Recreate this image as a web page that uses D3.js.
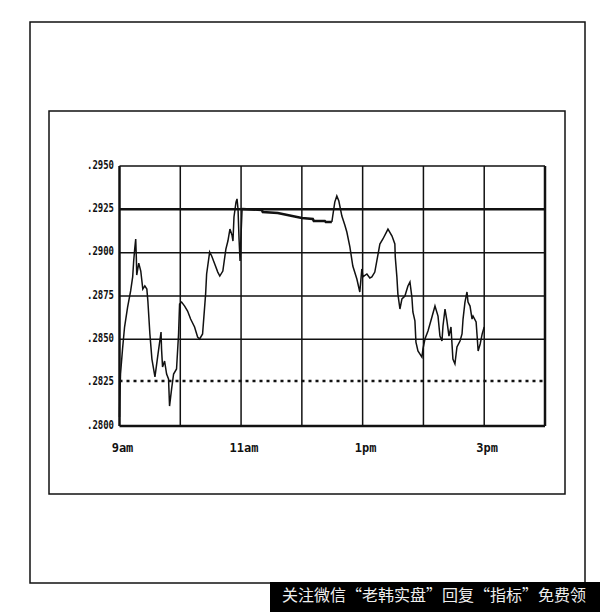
<!DOCTYPE html>
<html>
<head>
<meta charset="utf-8">
<script src="https://cdn.jsdelivr.net/npm/d3@7"></script>
<style>
  html, body { margin: 0; padding: 0; background: #fff; }
  #chart { width: 600px; height: 612px; }
</style>
</head>
<body>
<div id="chart"></div>
<script>
// minutes after 9:00, price in ten-thousandths (2925 = .2925)
const morningMin = [0, 0.3, 1, 3, 5, 8, 11, 13, 14, 15, 16, 16.6, 17, 19, 21, 23, 25, 27, 28, 30,
  32, 35, 38, 41, 41.5, 42.5, 44.5, 46.5, 48.4, 49.4, 51.4, 53.4, 56.3, 58.3, 59.3, 61.3, 64.3,
  67.2, 70.2, 74.1, 77.1, 79.1, 82, 85, 86, 89, 91, 94, 97, 99, 102, 105, 107, 109, 111, 112,
  113, 115, 116, 117, 118, 119, 120, 121];
const morningPx = [2805.2, 2815.6, 2830.0, 2844.4, 2857.1, 2868.6, 2877.9, 2886.0, 2895.2, 2902.1,
  2907.9, 2897.5, 2887.1, 2894.0, 2889.4, 2879.0, 2880.8, 2879.0, 2872.1, 2853.1, 2838.6, 2828.3,
  2841.5, 2854.2, 2844.4, 2834.0, 2837.5, 2830.0, 2827.1, 2811.5, 2821.3, 2830.0, 2832.9, 2853.1,
  2870.4, 2871.5, 2869.2, 2866.3, 2861.7, 2857.1, 2851.3, 2850.2, 2853.1, 2876.1, 2887.7, 2900.4,
  2898.1, 2893.5, 2888.8, 2886.5, 2889.4, 2902.1, 2906.7, 2913.6, 2910.2, 2906.7, 2920.6, 2929.2,
  2931.0, 2925.2, 2907.9, 2895.2, 2910.8, 2925.2];

// thick stepped stretch over lunch
const stairMin = [121, 140.4, 141.4, 156.2, 180, 190.8, 191.8, 202.6, 203.6, 209.6];
const stairPx = [2925.2, 2924.6, 2923.5, 2922.9, 2920.0, 2919.4, 2918.3, 2918.3, 2917.7, 2917.7];

const afternoonMin = [209.6, 212.5, 214.5, 216.5, 219.5, 222.4, 224.4, 227.4, 230.3, 234.3, 237.2,
  239.2, 240.2, 244.2, 247.1, 249.1, 252, 254, 257, 260, 263, 265, 269, 271.8, 272.2, 273.8, 274.8,
  276.8, 278.8, 281.7, 284.7, 286.7, 288.6, 289.6, 291.6, 292.6, 294.6, 296.6, 298.5, 299.5, 301.5,
  304.5, 308.4, 311.4, 314.4, 316.3, 318.3, 319.3, 321.3, 323.2, 325.2, 327.2, 329.1, 331.1, 333.1,
  336.1, 338.1, 339.1, 341, 343, 344, 346, 348, 349, 352, 353, 354, 356, 358, 360];
const afternoonPx = [2917.7, 2929.2, 2932.7, 2929.8, 2921.1, 2916.0, 2911.9, 2903.3, 2892.3, 2884.8,
  2877.3, 2890.6, 2886.0, 2887.7, 2885.4, 2886.0, 2888.8, 2895.2, 2905.0, 2907.9, 2911.3, 2913.6,
  2909.6, 2905.0, 2897.5, 2886.0, 2876.1, 2867.5, 2873.3, 2875.0, 2880.8, 2883.1, 2874.4, 2865.8,
  2860.6, 2848.4, 2843.3, 2841.5, 2839.8, 2844.4, 2850.2, 2854.8, 2862.9, 2869.2, 2863.4, 2851.9,
  2849.0, 2857.7, 2867.5, 2860.6, 2851.9, 2857.1, 2838.6, 2835.8, 2845.6, 2849.0, 2853.1, 2861.7,
  2871.5, 2877.3, 2871.5, 2869.2, 2861.7, 2863.4, 2860.0, 2851.9, 2843.3, 2847.3, 2853.1, 2857.1];

const priceTicks = [2800, 2825, 2850, 2875, 2900, 2925, 2950];
const hourTicks = [0, 60, 120, 180, 240, 300, 360, 420];
const timeLabels = [[0, "9am"], [120, "11am"], [240, "1pm"], [360, "3pm"]];
const resistance = 2925;
const support = 2826;

const ink = "#111";

const svg = d3
  .select("#chart")
  .append("svg")
  .attr("width", 600)
  .attr("height", 612);

svg.append("rect").attr("width", 600).attr("height", 612).attr("fill", "#fff");

// outer page frame + inner chart frame
svg
  .append("rect")
  .attr("x", 30)
  .attr("y", 22)
  .attr("width", 555)
  .attr("height", 561)
  .attr("fill", "none")
  .attr("stroke", ink)
  .attr("stroke-width", 1.5);

svg
  .append("rect")
  .attr("x", 49)
  .attr("y", 111)
  .attr("width", 516)
  .attr("height", 383)
  .attr("fill", "none")
  .attr("stroke", ink)
  .attr("stroke-width", 1.5);

const x = d3.scaleLinear().domain([0, 420]).range([119.5, 545]);
const y = d3.scaleLinear().domain([2800, 2950]).range([426, 166]);

// grid
const grid = svg.append("g").attr("class", "grid");

grid
  .selectAll("line.v")
  .data(hourTicks)
  .enter()
  .append("line")
  .attr("class", "v")
  .attr("x1", (d) => x(d))
  .attr("x2", (d) => x(d))
  .attr("y1", y(2950))
  .attr("y2", y(2800))
  .attr("stroke", ink)
  .attr("stroke-width", (d) => (d === 0 || d === 420 ? 2.5 : 1.5));

grid
  .selectAll("line.h")
  .data(priceTicks.filter((d) => d !== 2825))
  .enter()
  .append("line")
  .attr("class", "h")
  .attr("x1", x(0))
  .attr("x2", x(420))
  .attr("y1", (d) => y(d))
  .attr("y2", (d) => y(d))
  .attr("stroke", ink)
  .attr("stroke-width", (d) => (d === resistance || d === 2800 ? 2.5 : 1.5));

// support level, dotted
grid
  .append("line")
  .attr("x1", x(0))
  .attr("x2", x(420))
  .attr("y1", y(support))
  .attr("y2", y(support))
  .attr("stroke", ink)
  .attr("stroke-width", 2.5)
  .attr("stroke-dasharray", "3,4");

// y labels
svg
  .append("g")
  .selectAll("text")
  .data(priceTicks)
  .enter()
  .append("text")
  .attr("x", 114)
  .attr("y", (d) => y(d) - 1)
  .attr("text-anchor", "end")
  .attr("dominant-baseline", "middle")
  .attr("textLength", 27)
  .attr("lengthAdjust", "spacingAndGlyphs")
  .style("font-family", "DejaVu Sans Mono, monospace")
  .style("font-size", "12px")
  .style("font-weight", "bold")
  .attr("fill", ink)
  .text((d) => "." + d);

// x labels
svg
  .append("g")
  .selectAll("text")
  .data(timeLabels)
  .enter()
  .append("text")
  .attr("x", (d) => x(d[0]) + 3)
  .attr("y", 448)
  .attr("text-anchor", "middle")
  .attr("dominant-baseline", "middle")
  .style("font-family", "DejaVu Sans Mono, monospace")
  .style("font-size", "12px")
  .style("font-weight", "bold")
  .attr("fill", ink)
  .text((d) => d[1]);

// price line
const line = d3
  .line()
  .x((d) => x(d[0]))
  .y((d) => y(d[1]));

const zip = (a, b) => a.map((v, i) => [v, b[i]]);

svg
  .append("path")
  .datum(zip(morningMin, morningPx))
  .attr("d", line)
  .attr("fill", "none")
  .attr("stroke", ink)
  .attr("stroke-width", 1.5);

svg
  .append("path")
  .datum(zip(stairMin, stairPx))
  .attr("d", line)
  .attr("fill", "none")
  .attr("stroke", ink)
  .attr("stroke-width", 2.5);

svg
  .append("path")
  .datum(zip(afternoonMin, afternoonPx))
  .attr("d", line)
  .attr("fill", "none")
  .attr("stroke", ink)
  .attr("stroke-width", 1.5);

// watermark strip, bottom right
svg
  .append("rect")
  .attr("x", 270)
  .attr("y", 582)
  .attr("width", 330)
  .attr("height", 30)
  .attr("fill", "#000");

svg
  .append("text")
  .attr("x", 282)
  .attr("y", 597)
  .attr("dominant-baseline", "middle")
  .style("font-family", "Noto Sans CJK SC")
  .style("font-size", "16px")
  .attr("fill", "#eee")
  .text("关注微信“老韩实盘”回复“指标”免费领");
</script>
</body>
</html>
